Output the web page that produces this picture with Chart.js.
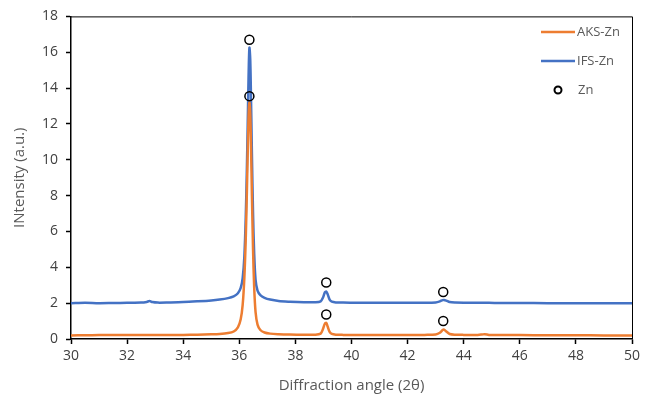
<!DOCTYPE html>
<html>
<head>
<meta charset="utf-8">
<script src="https://cdn.jsdelivr.net/npm/chart.js@4.4.1/dist/chart.umd.min.js"></script>
<style>
  html, body { margin: 0; padding: 0; background: #fff; }
  #wrap { width: 653px; height: 403px; }
</style>
</head>
<body>
<div id="wrap"><canvas id="xrd"></canvas></div>
<script>
// diffraction angles (2θ), shared by both patterns
const angles = [
  30, 30.5, 31, 31.5, 32, 32.5, 32.7, 32.8, 32.9, 33.1, 33.5, 34, 34.5, 35, 35.3, 35.6,
  35.8, 35.95, 36.05, 36.12, 36.18, 36.23, 36.27, 36.3, 36.33, 36.36, 36.39, 36.42,
  36.45, 36.49, 36.53, 36.58, 36.65, 36.75, 36.9, 37.1, 37.4, 37.8, 38.3, 38.7, 38.9,
  38.98, 39.05, 39.1, 39.15, 39.22, 39.3, 39.45, 39.7, 40.2, 40.8, 41.4, 42, 42.6,
  43.0, 43.15, 43.25, 43.3, 43.38, 43.5, 43.7, 44, 44.5, 44.65, 44.75, 44.9, 45.3,
  46, 47, 48, 49, 50
];

const aksZn = [
  0.2, 0.21, 0.22, 0.22, 0.22, 0.22, 0.22, 0.23, 0.22, 0.22, 0.23, 0.23, 0.24, 0.26, 0.28, 0.33,
  0.42, 0.65, 1.1, 1.9, 3.4, 5.6, 8.2, 10.4, 12.4, 13.2, 12.6, 10.6,
  8.0, 5.0, 2.9, 1.5, 0.8, 0.5, 0.36, 0.3, 0.27, 0.25, 0.24, 0.24, 0.3,
  0.55, 0.85, 0.9, 0.7, 0.4, 0.28, 0.24, 0.23, 0.23, 0.22, 0.22, 0.22, 0.23,
  0.25, 0.35, 0.5, 0.52, 0.42, 0.28, 0.24, 0.23, 0.23, 0.25, 0.27, 0.23, 0.22,
  0.22, 0.21, 0.21, 0.2, 0.2
];

const ifsZn = [
  2.0, 2.02, 2.0, 2.01, 2.02, 2.03, 2.07, 2.12, 2.06, 2.03, 2.04, 2.06, 2.1, 2.15, 2.2, 2.28,
  2.38, 2.55, 2.85, 3.4, 4.6, 6.8, 9.5, 12.0, 14.6, 16.25, 15.6, 13.2,
  10.3, 7.0, 4.8, 3.3, 2.7, 2.45, 2.3, 2.2, 2.12, 2.08, 2.05, 2.05, 2.1,
  2.3, 2.6, 2.65, 2.5, 2.2, 2.08, 2.04, 2.03, 2.02, 2.02, 2.02, 2.02, 2.02,
  2.04, 2.1, 2.17, 2.18, 2.14, 2.06, 2.03, 2.02, 2.02, 2.02, 2.02, 2.02, 2.01,
  2.01, 2.0, 2.0, 2.0, 2.0
];

// Zn reflection markers
const znAngles = [36.36, 36.36, 39.1, 39.1, 43.27, 43.27];
const znMarks = [16.7, 13.55, 3.15, 1.37, 2.62, 1.0];

const yTicks = [0, 2, 4, 6, 8, 10, 12, 14, 16, 18];
const xTicks = [30, 32, 34, 36, 38, 40, 42, 44, 46, 48, 50];

const pairs = (xs, ys) => xs.map((x, i) => ({ x: x, y: ys[i] }));

const textFont = "'Open Sans', 'Liberation Sans', sans-serif";

// top and right edges of the plot box
const frame = {
  id: 'frame',
  afterDatasetsDraw(chart) {
    const { ctx, chartArea: a } = chart;
    ctx.save();
    ctx.strokeStyle = '#000';
    ctx.lineWidth = 1;
    ctx.beginPath();
    ctx.moveTo(a.left, a.top + 0.5);
    ctx.lineTo(a.right + 0.5, a.top + 0.5);
    ctx.lineTo(a.right + 0.5, a.bottom);
    ctx.stroke();
    ctx.restore();
  }
};

// legend inside the top right corner
const boxLegend = {
  id: 'boxLegend',
  afterDraw(chart) {
    const { ctx } = chart;
    const rows = chart.data.datasets;
    ctx.save();
    ctx.font = '13px ' + textFont;
    ctx.textBaseline = 'middle';
    ctx.fillStyle = '#595959';
    rows.forEach((ds, i) => {
      const y = 32 + i * 29;
      if (ds.showLine) {
        ctx.strokeStyle = ds.borderColor;
        ctx.lineWidth = 2.5;
        ctx.beginPath();
        ctx.moveTo(541, y);
        ctx.lineTo(575, y);
        ctx.stroke();
        ctx.fillText(ds.label, 577, y);
      } else {
        ctx.strokeStyle = '#000';
        ctx.lineWidth = 2;
        ctx.beginPath();
        ctx.arc(558, y, 3.5, 0, Math.PI * 2);
        ctx.stroke();
        ctx.fillText(ds.label, 578, y);
      }
    });
    ctx.restore();
  }
};

new Chart(document.getElementById('xrd'), {
  type: 'scatter',
  data: {
    datasets: [
      {
        label: 'AKS-Zn',
        data: pairs(angles, aksZn),
        showLine: true,
        borderColor: '#ED7D31',
        borderWidth: 2.5,
        pointRadius: 0,
        tension: 0.3,
        order: 1
      },
      {
        label: 'IFS-Zn',
        data: pairs(angles, ifsZn),
        showLine: true,
        borderColor: '#4472C4',
        borderWidth: 2.5,
        pointRadius: 0,
        tension: 0.3,
        order: 2
      },
      {
        label: 'Zn',
        data: pairs(znAngles, znMarks),
        showLine: false,
        pointStyle: 'circle',
        pointRadius: 4.5,
        pointBorderWidth: 1.5,
        pointBorderColor: '#000',
        pointBackgroundColor: 'rgba(0,0,0,0)',
        order: 0
      }
    ]
  },
  options: {
    responsive: true,
    maintainAspectRatio: false,
    animation: false,
    layout: { padding: { top: 12, right: 21, left: 0, bottom: 0 } },
    plugins: {
      legend: { display: false },
      tooltip: { enabled: false }
    },
    scales: {
      x: {
        type: 'linear',
        min: 30,
        max: 50,
        afterFit: (s) => { s.height = 64; },
        afterBuildTicks: (s) => { s.ticks = xTicks.map(v => ({ value: v })); },
        grid: { display: true, drawOnChartArea: false, drawTicks: true, tickLength: 5, tickColor: '#000', tickWidth: 1.5 },
        border: { display: true, color: '#000', width: 1.5 },
        ticks: { color: '#404040', font: { family: textFont, size: 14 }, padding: 4, maxRotation: 0 },
        title: {
          display: true,
          text: 'Diffraction angle (2θ)',
          color: '#595959',
          font: { family: textFont, size: 15 },
          padding: { top: 0, bottom: 8 }
        }
      },
      y: {
        min: 0,
        max: 18,
        afterFit: (s) => { s.width = 71; },
        afterBuildTicks: (s) => { s.ticks = yTicks.map(v => ({ value: v })); },
        grid: { display: true, drawOnChartArea: false, drawTicks: true, tickLength: 5, tickColor: '#000', tickWidth: 1.5 },
        border: { display: true, color: '#000', width: 1.5 },
        ticks: { color: '#404040', font: { family: textFont, size: 14 }, padding: 8 },
        title: {
          display: true,
          text: 'INtensity (a.u.)',
          color: '#595959',
          font: { family: textFont, size: 15 },
          padding: { top: 11, bottom: 0 }
        }
      }
    }
  },
  plugins: [frame, boxLegend]
});
</script>
</body>
</html>
